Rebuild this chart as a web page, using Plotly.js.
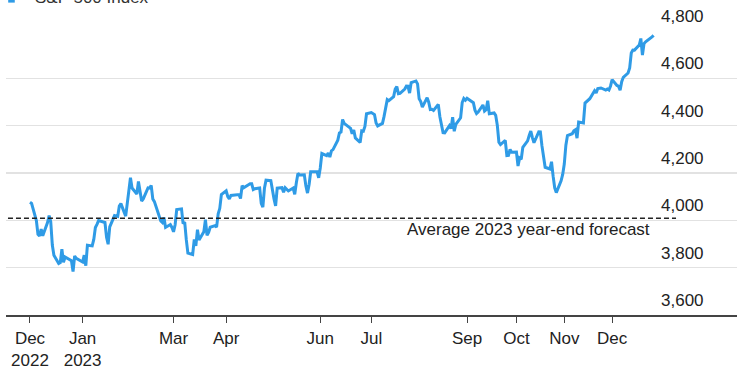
<!DOCTYPE html>
<html>
<head>
<meta charset="utf-8">
<script src="https://cdn.plot.ly/plotly-3.0.1.min.js"></script>
<style>html,body{margin:0;padding:0;background:#fff;}#chart{width:739px;height:368px;}</style>
</head>
<body>
<div id="chart"></div>
<script>
// S&P 500 Index daily closes, Dec 2022 – Dec 2023
const dates = [
"2022-12-01","2022-12-02","2022-12-05","2022-12-06","2022-12-07","2022-12-08","2022-12-09","2022-12-12","2022-12-13","2022-12-14","2022-12-15","2022-12-16","2022-12-19","2022-12-20","2022-12-21","2022-12-22","2022-12-23","2022-12-27","2022-12-28","2022-12-29","2022-12-30",
"2023-01-03","2023-01-04","2023-01-05","2023-01-06","2023-01-09","2023-01-10","2023-01-11","2023-01-12","2023-01-13","2023-01-17","2023-01-18","2023-01-19","2023-01-20","2023-01-23","2023-01-24","2023-01-25","2023-01-26","2023-01-27","2023-01-30","2023-01-31",
"2023-02-01","2023-02-02","2023-02-03","2023-02-06","2023-02-07","2023-02-08","2023-02-09","2023-02-10","2023-02-13","2023-02-14","2023-02-15","2023-02-16","2023-02-17","2023-02-21","2023-02-22","2023-02-23","2023-02-24","2023-02-27","2023-02-28",
"2023-03-01","2023-03-02","2023-03-03","2023-03-06","2023-03-07","2023-03-08","2023-03-09","2023-03-10","2023-03-13","2023-03-14","2023-03-15","2023-03-16","2023-03-17","2023-03-20","2023-03-21","2023-03-22","2023-03-23","2023-03-24","2023-03-27","2023-03-28","2023-03-29","2023-03-30","2023-03-31",
"2023-04-03","2023-04-04","2023-04-05","2023-04-06","2023-04-10","2023-04-11","2023-04-12","2023-04-13","2023-04-14","2023-04-17","2023-04-18","2023-04-19","2023-04-20","2023-04-21","2023-04-24","2023-04-25","2023-04-26","2023-04-27","2023-04-28",
"2023-05-01","2023-05-02","2023-05-03","2023-05-04","2023-05-05","2023-05-08","2023-05-09","2023-05-10","2023-05-11","2023-05-12","2023-05-15","2023-05-16","2023-05-17","2023-05-18","2023-05-19","2023-05-22","2023-05-23","2023-05-24","2023-05-25","2023-05-26","2023-05-30","2023-05-31",
"2023-06-01","2023-06-02","2023-06-05","2023-06-06","2023-06-07","2023-06-08","2023-06-09","2023-06-12","2023-06-13","2023-06-14","2023-06-15","2023-06-16","2023-06-20","2023-06-21","2023-06-22","2023-06-23","2023-06-26","2023-06-27","2023-06-28","2023-06-29","2023-06-30",
"2023-07-03","2023-07-05","2023-07-06","2023-07-07","2023-07-10","2023-07-11","2023-07-12","2023-07-13","2023-07-14","2023-07-17","2023-07-18","2023-07-19","2023-07-20","2023-07-21","2023-07-24","2023-07-25","2023-07-26","2023-07-27","2023-07-28","2023-07-31",
"2023-08-01","2023-08-02","2023-08-03","2023-08-04","2023-08-07","2023-08-08","2023-08-09","2023-08-10","2023-08-11","2023-08-14","2023-08-15","2023-08-16","2023-08-17","2023-08-18","2023-08-21","2023-08-22","2023-08-23","2023-08-24","2023-08-25","2023-08-28","2023-08-29","2023-08-30","2023-08-31",
"2023-09-01","2023-09-05","2023-09-06","2023-09-07","2023-09-08","2023-09-11","2023-09-12","2023-09-13","2023-09-14","2023-09-15","2023-09-18","2023-09-19","2023-09-20","2023-09-21","2023-09-22","2023-09-25","2023-09-26","2023-09-27","2023-09-28","2023-09-29",
"2023-10-02","2023-10-03","2023-10-04","2023-10-05","2023-10-06","2023-10-09","2023-10-10","2023-10-11","2023-10-12","2023-10-13","2023-10-16","2023-10-17","2023-10-18","2023-10-19","2023-10-20","2023-10-23","2023-10-24","2023-10-25","2023-10-26","2023-10-27","2023-10-30","2023-10-31",
"2023-11-01","2023-11-02","2023-11-03","2023-11-06","2023-11-07","2023-11-08","2023-11-09","2023-11-10","2023-11-13","2023-11-14","2023-11-15","2023-11-16","2023-11-17","2023-11-20","2023-11-21","2023-11-22","2023-11-24","2023-11-27","2023-11-28","2023-11-29","2023-11-30",
"2023-12-01","2023-12-04","2023-12-05","2023-12-06","2023-12-07","2023-12-08","2023-12-11","2023-12-12","2023-12-13","2023-12-14","2023-12-15","2023-12-18","2023-12-19","2023-12-20","2023-12-21","2023-12-22","2023-12-26","2023-12-27"
];
const closes = [
4076.57,4071.70,3998.84,3941.26,3933.92,3963.51,3934.38,3990.56,4019.65,3995.32,3895.75,3852.36,3817.66,3821.62,3878.44,3822.39,3844.82,3829.25,3783.22,3849.28,3839.50,
3824.14,3852.97,3808.10,3895.08,3892.09,3919.25,3969.61,3983.17,3999.09,3990.97,3928.86,3898.85,3972.61,4019.81,4016.95,4016.22,4060.43,4070.56,4017.77,4076.60,
4119.21,4179.76,4136.48,4111.08,4164.00,4117.86,4081.50,4090.46,4137.29,4136.13,4147.60,4090.41,4079.09,3997.34,3991.05,4012.32,3970.04,3982.24,3970.15,
3951.39,3981.35,4045.64,4048.42,3986.37,3992.01,3918.32,3861.59,3855.76,3919.29,3891.93,3960.28,3916.64,3951.57,4002.87,3936.97,3948.72,3970.99,3977.53,3971.27,4027.81,4050.83,4109.31,
4124.51,4100.60,4090.38,4105.02,4109.11,4108.94,4091.95,4146.22,4137.64,4151.32,4154.87,4154.52,4129.79,4133.52,4137.04,4071.63,4055.99,4135.35,4169.48,
4167.87,4119.58,4090.75,4061.22,4136.25,4138.12,4119.17,4137.64,4130.62,4124.08,4136.28,4109.90,4158.77,4198.05,4191.98,4192.63,4145.58,4115.24,4151.28,4205.45,4205.52,4179.83,
4221.02,4282.37,4273.79,4283.85,4267.52,4293.93,4298.86,4338.93,4369.01,4372.59,4425.84,4409.59,4388.71,4365.69,4381.89,4348.33,4328.82,4378.41,4376.86,4396.44,4450.38,
4455.59,4446.82,4411.59,4398.95,4409.53,4439.26,4472.16,4510.04,4505.42,4522.79,4554.98,4565.72,4534.87,4536.34,4554.64,4567.46,4566.75,4537.41,4582.23,4588.96,
4576.73,4513.39,4501.89,4478.03,4518.44,4499.38,4467.71,4468.83,4464.05,4489.72,4437.86,4404.33,4370.36,4369.71,4399.77,4387.55,4436.01,4376.31,4405.71,4433.31,4497.63,4514.87,4507.66,
4515.77,4496.83,4465.48,4451.14,4457.49,4487.46,4461.90,4467.44,4505.10,4450.32,4453.53,4443.95,4402.20,4330.00,4320.06,4337.44,4273.53,4274.51,4299.70,4288.05,
4288.39,4229.45,4263.75,4258.19,4308.50,4335.66,4358.24,4376.95,4349.61,4327.78,4373.63,4373.20,4314.60,4278.00,4224.16,4217.04,4247.68,4186.77,4137.23,4117.37,4166.82,4193.80,
4237.86,4317.78,4358.34,4365.98,4378.38,4382.78,4347.35,4415.24,4411.55,4495.70,4502.88,4508.24,4514.02,4547.38,4538.19,4556.62,4559.34,4550.43,4554.89,4550.58,4567.80,
4594.63,4569.78,4567.18,4549.34,4585.59,4604.37,4622.44,4643.70,4707.09,4719.55,4719.19,4740.56,4768.37,4698.35,4746.75,4754.63,4774.75,4781.58
];
const seriesName = "S&P 500 Index";
const forecastAvg = 4009;
const forecastLabel = "Average 2023 year-end forecast";
const xTickVals = ["2022-12-01","2023-01-03","2023-03-01","2023-04-03","2023-06-01","2023-07-03","2023-09-01","2023-10-02","2023-11-01","2023-12-01"];
const xTickText = ["Dec<br>2022","Jan<br>2023","Mar","Apr","Jun","Jul","Sep","Oct","Nov","Dec"];
const yTickVals = [3600,3800,4000,4200,4400,4600,4800];
const yTickText = ["3,600","3,800","4,000","4,200","4,400","4,600","4,800"];

const FONT = "Liberation Sans, Arial, Helvetica, sans-serif";
const BLUE = "#2f9be6";

const trace = {
  x: dates, y: closes, type: "scatter", mode: "lines",
  line: {color: BLUE, width: 3}, hoverinfo: "skip", showlegend: false
};

const annotations = yTickVals.map((v, i) => ({
  xref: "paper", yref: "y", x: 0.9576, y: v, xanchor: "right", yanchor: "bottom",
  yshift: 3, text: yTickText[i], showarrow: false,
  font: {family: FONT, size: 17, color: "#222"}
}));
annotations.push({
  xref: "paper", yref: "y", x: 0.8837, y: forecastAvg, xanchor: "right", yanchor: "top",
  yshift: 0, text: forecastLabel, showarrow: false,
  font: {family: FONT, size: 17, color: "#222"}
});
annotations.push({
  xref: "paper", yref: "paper", x: 0.037, y: 1.077, xanchor: "left", yanchor: "bottom",
  text: seriesName, showarrow: false,
  font: {family: FONT, size: 17, color: "#333"}
});

const layout = {
  width: 739, height: 368,
  margin: {l: 6, r: 2, t: 31, b: 53},
  paper_bgcolor: "#fff", plot_bgcolor: "#fff",
  showlegend: false, hovermode: false,
  xaxis: {
    type: "date", range: ["2022-11-15 23:00", "2024-02-17 07:00"],
    tickvals: xTickVals, ticktext: xTickText,
    ticks: "outside", ticklen: 6, tickwidth: 1, tickcolor: "#444",
    showline: true, linecolor: "#444", linewidth: 1.5,
    showgrid: false, zeroline: false, ticklabelstandoff: 1,
    tickfont: {family: FONT, size: 17, color: "#222"}
  },
  yaxis: {
    range: [3600, 4800], tickvals: yTickVals, showticklabels: false,
    showgrid: true, gridcolor: "#e2e2e2", gridwidth: 1.5, zeroline: false, ticks: ""
  },
  shapes: [
    {type: "line", xref: "paper", yref: "y", x0: 0.0027, x1: 0.9166, y0: forecastAvg, y1: forecastAvg,
     line: {color: "#222", width: 1.5, dash: "5px,3px"}},
    {type: "line", xref: "paper", yref: "paper", x0: 0.003, x1: 0.012, y0: 1.107, y1: 1.107,
     line: {color: BLUE, width: 4}}
  ],
  annotations: annotations
};

Plotly.newPlot("chart", [trace], layout, {displayModeBar: false, staticPlot: true});
</script>
</body>
</html>
